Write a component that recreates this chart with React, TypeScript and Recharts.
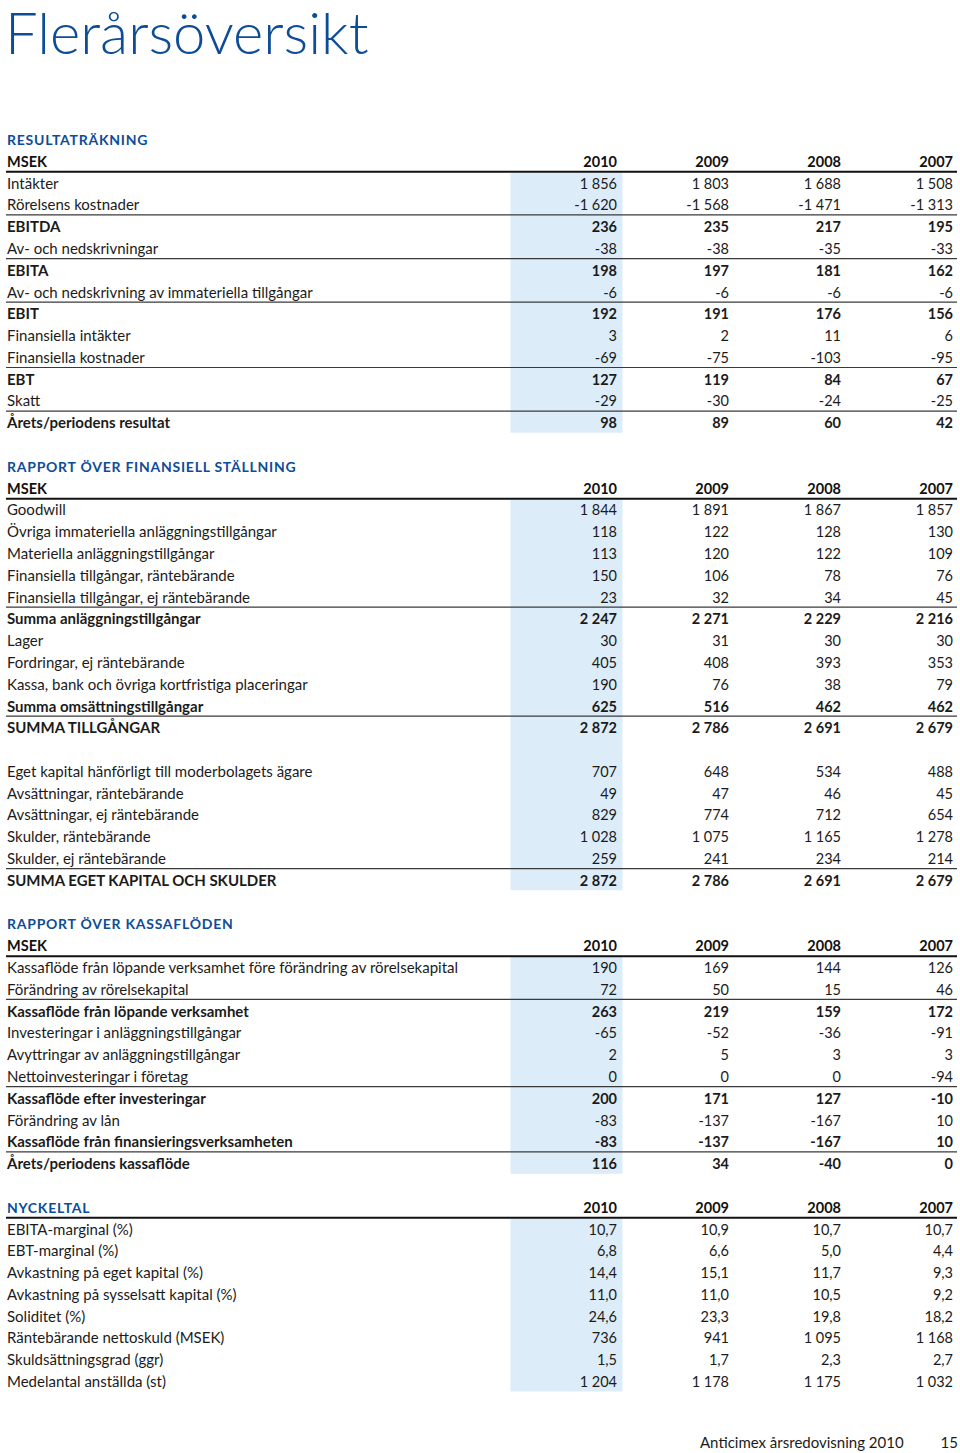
import { Surface, Layer, Text, Rectangle } from 'recharts';

// ---- data ----
const years = ['2010', '2009', '2008', '2007'];

const incomeLabels = [
  'Intäkter',
  'Rörelsens kostnader',
  'EBITDA',
  'Av- och nedskrivningar',
  'EBITA',
  'Av- och nedskrivning av immateriella tillgångar',
  'EBIT',
  'Finansiella intäkter',
  'Finansiella kostnader',
  'EBT',
  'Skatt',
  'Årets/periodens resultat',
];
const income2010 = [1856, -1620, 236, -38, 198, -6, 192, 3, -69, 127, -29, 98];
const income2009 = [1803, -1568, 235, -38, 197, -6, 191, 2, -75, 119, -30, 89];
const income2008 = [1688, -1471, 217, -35, 181, -6, 176, 11, -103, 84, -24, 60];
const income2007 = [1508, -1313, 195, -33, 162, -6, 156, 6, -95, 67, -25, 42];
const incomeBold = [2, 4, 6, 9, 11];
const incomeRules = [1, 3, 5, 8, 10];

const balanceLabels = [
  'Goodwill',
  'Övriga immateriella anläggningstillgångar',
  'Materiella anläggningstillgångar',
  'Finansiella tillgångar, räntebärande',
  'Finansiella tillgångar, ej räntebärande',
  'Summa anläggningstillgångar',
  'Lager',
  'Fordringar, ej räntebärande',
  'Kassa, bank och övriga kortfristiga placeringar',
  'Summa omsättningstillgångar',
  'SUMMA TILLGÅNGAR',
  '',
  'Eget kapital hänförligt till moderbolagets ägare',
  'Avsättningar, räntebärande',
  'Avsättningar, ej räntebärande',
  'Skulder, räntebärande',
  'Skulder, ej räntebärande',
  'SUMMA EGET KAPITAL OCH SKULDER',
];
const balance2010 = [1844, 118, 113, 150, 23, 2247, 30, 405, 190, 625, 2872, null, 707, 49, 829, 1028, 259, 2872];
const balance2009 = [1891, 122, 120, 106, 32, 2271, 31, 408, 76, 516, 2786, null, 648, 47, 774, 1075, 241, 2786];
const balance2008 = [1867, 128, 122, 78, 34, 2229, 30, 393, 38, 462, 2691, null, 534, 46, 712, 1165, 234, 2691];
const balance2007 = [1857, 130, 109, 76, 45, 2216, 30, 353, 79, 462, 2679, null, 488, 45, 654, 1278, 214, 2679];
const balanceBold = [5, 9, 10, 17];
const balanceRules = [4, 9, 16];

const cashLabels = [
  'Kassaflöde från löpande verksamhet före förändring av rörelsekapital',
  'Förändring av rörelsekapital',
  'Kassaflöde från löpande verksamhet',
  'Investeringar i anläggningstillgångar',
  'Avyttringar av anläggningstillgångar',
  'Nettoinvesteringar i företag',
  'Kassaflöde efter investeringar',
  'Förändring av lån',
  'Kassaflöde från finansieringsverksamheten',
  'Årets/periodens kassaflöde',
];
const cash2010 = [190, 72, 263, -65, 2, 0, 200, -83, -83, 116];
const cash2009 = [169, 50, 219, -52, 5, 0, 171, -137, -137, 34];
const cash2008 = [144, 15, 159, -36, 3, 0, 127, -167, -167, -40];
const cash2007 = [126, 46, 172, -91, 3, -94, -10, 10, 10, 0];
const cashBold = [2, 6, 8, 9];
const cashRules = [1, 5, 8];

const keyLabels = [
  'EBITA-marginal (%)',
  'EBT-marginal (%)',
  'Avkastning på eget kapital (%)',
  'Avkastning på sysselsatt kapital (%)',
  'Soliditet (%)',
  'Räntebärande nettoskuld (MSEK)',
  'Skuldsättningsgrad (ggr)',
  'Medelantal anställda (st)',
];
const key2010 = [10.7, 6.8, 14.4, 11.0, 24.6, 736, 1.5, 1204];
const key2009 = [10.9, 6.6, 15.1, 11.0, 23.3, 941, 1.7, 1178];
const key2008 = [10.7, 5.0, 11.7, 10.5, 19.8, 1095, 2.3, 1175];
const key2007 = [10.7, 4.4, 9.3, 9.2, 18.2, 1168, 2.7, 1032];
const keyDecimals = [1, 1, 1, 1, 1, 0, 1, 0];

// ---- layout ----
const W = 960;
const H = 1453;
const TOP = 145;
const STEP = 21.79;
const LEFT = 7;
const RIGHT = 957;
const COL_RIGHT = [617, 729, 841, 953];
const HILITE_X = 510.5;
const HILITE_W = 112;
const FONT = 'Lato, "Open Sans", sans-serif';
const BLUE = '#0d4d98';
const INK = '#1b1b1b';

interface Section {
  title: string;
  unitRow: boolean;
  labels: string[];
  values: (number | null)[][];
  bold: number[];
  rules: number[];
  decimals?: number[];
}

const sections: Section[] = [
  { title: 'RESULTATRÄKNING', unitRow: true, labels: incomeLabels, values: [income2010, income2009, income2008, income2007], bold: incomeBold, rules: incomeRules },
  { title: 'RAPPORT ÖVER FINANSIELL STÄLLNING', unitRow: true, labels: balanceLabels, values: [balance2010, balance2009, balance2008, balance2007], bold: balanceBold, rules: balanceRules },
  { title: 'RAPPORT ÖVER KASSAFLÖDEN', unitRow: true, labels: cashLabels, values: [cash2010, cash2009, cash2008, cash2007], bold: cashBold, rules: cashRules },
  { title: 'NYCKELTAL', unitRow: false, labels: keyLabels, values: [key2010, key2009, key2008, key2007], bold: [], rules: [], decimals: keyDecimals },
];

function fmt(v: number, d = 0) {
  const [int, dec] = Math.abs(v).toFixed(d).split('.');
  const grouped = int.replace(/\B(?=(\d{3})+(?!\d))/g, ' ');
  return (v < 0 ? '-' : '') + grouped + (dec ? ',' + dec : '');
}

const baseline = (line: number) => TOP + STEP * line;

function TableSection({ s, startLine }: { s: Section; startLine: number }) {
  const yearLine = s.unitRow ? startLine + 1 : startLine;
  const firstRow = yearLine + 1;
  const headY = baseline(yearLine);
  const lastY = baseline(firstRow + s.labels.length - 1);

  return (
    <Layer>
      {/* 2010 column highlight */}
      <Rectangle x={HILITE_X} y={headY + 6} width={HILITE_W} height={lastY + 4.5 - (headY + 6)} fill="#dcedf9" />

      <Text x={LEFT} y={baseline(startLine)} fill={BLUE} fontFamily={FONT} fontWeight={700} fontSize={14} letterSpacing={0.75}>
        {s.title}
      </Text>
      {s.unitRow && (
        <Text x={LEFT} y={headY} fill="#111" fontFamily={FONT} fontWeight={700} fontSize={14.5}>
          MSEK
        </Text>
      )}
      {years.map((yr, c) => (
        <Text key={yr} x={COL_RIGHT[c]} y={headY} textAnchor="end" fill="#111" fontFamily={FONT} fontWeight={700} fontSize={14.5}>
          {yr}
        </Text>
      ))}
      <Rectangle x={6} y={headY + 4} width={RIGHT - 6} height={2} fill="#111" />

      {s.labels.map((label, i) => {
        const y = baseline(firstRow + i);
        const isBold = s.bold.includes(i);
        return (
          <Layer key={`row-${i}`}>
            {label && (
              <Text x={LEFT} y={y} fill={INK} fontFamily={FONT} fontWeight={isBold ? 700 : 400} fontSize={15}>
                {label}
              </Text>
            )}
            {s.values.map((col, c) =>
              col[i] == null ? null : (
                <Text
                  key={c}
                  x={COL_RIGHT[c]}
                  y={y}
                  textAnchor="end"
                  fill={INK}
                  fontFamily={FONT}
                  fontWeight={isBold ? 700 : 400}
                  fontSize={14.5}
                >
                  {fmt(col[i] as number, s.decimals ? s.decimals[i] : 0)}
                </Text>
              )
            )}
            {s.rules.includes(i) && <Rectangle x={6} y={y + 4} width={RIGHT - 6} height={1.2} fill="#3a3a3a" />}
          </Layer>
        );
      })}
    </Layer>
  );
}

export default function App() {
  let line = 0;
  const starts = sections.map((s) => {
    const start = line;
    const firstRow = start + (s.unitRow ? 2 : 1);
    line = firstRow + s.labels.length - 1 + 2;
    return start;
  });

  return (
    <div style={{ position: 'absolute', left: 0, top: 0, width: W, height: H, background: '#fff' }}>
      <Surface width={W} height={H}>
        <Text x={5} y={54} fill={BLUE} fontFamily={FONT} fontWeight={300} fontSize={58}>
          Flerårsöversikt
        </Text>

        {sections.map((s, i) => (
          <TableSection key={s.title} s={s} startLine={starts[i]} />
        ))}

        <Text x={700} y={1448} fill={INK} fontFamily={FONT} fontSize={15}>
          Anticimex årsredovisning 2010
        </Text>
        <Text x={958} y={1448} textAnchor="end" fill={INK} fontFamily={FONT} fontSize={15}>
          15
        </Text>
      </Surface>
    </div>
  );
}
